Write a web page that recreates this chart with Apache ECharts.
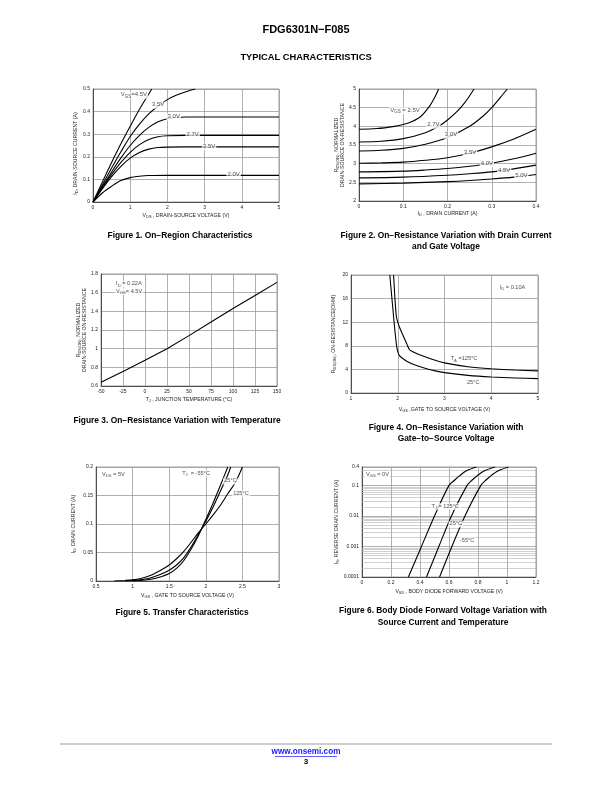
<!DOCTYPE html>
<html><head><meta charset="utf-8">
<script src="https://cdn.jsdelivr.net/npm/echarts@6/dist/echarts.min.js"></script>
<style>html,body{margin:0;padding:0;background:#fff}#c{width:612px;height:792px}</style>
</head><body><div id="c"></div>
<script>
// ---------- Figure 1: On-Region Characteristics (VDS [V], ID [A]) ----------
const fig1Vgs20 = [[0,0],[0.25,0.04],[0.5,0.07],[0.75,0.095],[1,0.108],[1.25,0.114],[1.5,0.117],[2,0.118],[3,0.118],[5,0.118]];
const fig1Vgs25 = [[0,0],[0.25,0.058],[0.5,0.112],[0.75,0.158],[1,0.194],[1.25,0.219],[1.5,0.234],[1.75,0.241],[2,0.243],[2.5,0.244],[3.5,0.244],[5,0.244]];
const fig1Vgs27 = [[0,0],[0.25,0.063],[0.5,0.122],[0.75,0.175],[1,0.22],[1.25,0.254],[1.5,0.277],[1.75,0.289],[2,0.293],[2.5,0.295],[3.5,0.295],[5,0.295]];
const fig1Vgs30 = [[0,0],[0.25,0.068],[0.5,0.133],[0.75,0.195],[1,0.25],[1.25,0.295],[1.5,0.33],[1.75,0.355],[2,0.368],[2.25,0.374],[2.5,0.376],[3.5,0.376],[5,0.376]];
const fig1Vgs35 = [[0,0],[0.25,0.076],[0.5,0.15],[0.75,0.222],[1,0.29],[1.25,0.345],[1.5,0.39],[1.75,0.425],[2,0.453],[2.25,0.473],[2.5,0.488],[2.75,0.5]];
const fig1Vgs45 = [[0,0],[0.25,0.088],[0.5,0.175],[0.75,0.258],[1,0.335],[1.25,0.41],[1.5,0.478],[1.58,0.5]];
const fig1Notes = [[1.1,0.472,'{a|V}{b|GS}{a|=4.5V}','c'],[1.75,0.428,'{a|3.5V}','c'],[2.17,0.376,'{a|3.0V}','c'],[2.68,0.295,'{a|2.7V}','c'],[3.12,0.244,'{a|2.5V}','c'],[3.78,0.118,'{a|2.0V}','c']];

// ---------- Figure 2: normalized RDS(on) vs ID ----------
const fig2Vgs25 = [[0,3.92],[0.04,3.94],[0.08,4.0],[0.1,4.05],[0.12,4.13],[0.14,4.27],[0.16,4.55],[0.17,4.75],[0.18,5.0]];
const fig2Vgs27 = [[0,3.58],[0.05,3.6],[0.1,3.67],[0.15,3.83],[0.18,4.0],[0.2,4.17],[0.22,4.38],[0.24,4.65],[0.26,5.0]];
const fig2Vgs30 = [[0,3.34],[0.05,3.36],[0.1,3.41],[0.15,3.52],[0.2,3.7],[0.25,4.0],[0.28,4.27],[0.3,4.5],[0.32,4.78],[0.335,5.0]];
const fig2Vgs35 = [[0,3.01],[0.05,3.02],[0.1,3.04],[0.15,3.09],[0.2,3.16],[0.25,3.28],[0.3,3.45],[0.35,3.66],[0.4,3.92]];
const fig2Vgs40 = [[0,2.78],[0.1,2.8],[0.15,2.83],[0.2,2.87],[0.25,2.93],[0.3,3.01],[0.35,3.13],[0.4,3.28]];
const fig2Vgs45 = [[0,2.62],[0.1,2.64],[0.2,2.69],[0.25,2.73],[0.3,2.78],[0.35,2.86],[0.4,2.96]];
const fig2Vgs50 = [[0,2.46],[0.1,2.48],[0.2,2.52],[0.25,2.55],[0.3,2.59],[0.35,2.64],[0.4,2.71]];
const fig2Notes = [[0.104,4.42,'{a|V}{b|GS}{a| = 2.5V}','c'],[0.168,4.03,'{a|2.7V}','c'],[0.208,3.76,'{a|3.0V}','c'],[0.251,3.29,'{a|3.5V}','c'],[0.289,3.0,'{a|4.0V}','c'],[0.328,2.82,'{a|4.5V}','c'],[0.367,2.67,'{a|5.0V}','c']];

// ---------- Figure 3: normalized RDS(on) vs TJ ----------
const fig3Temp = [-50,-25,0,25,50,75,100,125,150];
const fig3Rds = [0.64,0.755,0.875,1.0,1.14,1.285,1.43,1.57,1.71];
const fig3Notes = [[-34,1.692,'{a|I}{b|D}{a| = 0.22A}','l'],[-34,1.613,'{a|V}{b|GS}{a|= 4.5V}','l']];

// ---------- Figure 4: RDS(on) vs VGS ----------
const fig4T25 = [[1.83,20],[1.87,16.5],[1.91,13],[1.94,10.5],[1.97,8.3],[2.0,7.0],[2.04,6.3],[2.1,5.9],[2.2,5.35],[2.4,4.65],[2.6,4.15],[2.8,3.75],[3.0,3.45],[3.5,2.98],[4.0,2.7],[4.5,2.55],[5.0,2.44]];
const fig4T125 = [[1.91,20],[1.94,16],[1.97,13.0],[2.0,12.0],[2.05,10.9],[2.1,10.0],[2.15,9.1],[2.2,8.2],[2.25,7.35],[2.4,6.7],[2.6,6.1],[2.8,5.55],[3.0,5.1],[3.5,4.45],[4.0,4.1],[4.5,3.9],[5.0,3.75]];
const fig4Notes = [[4.16,17.85,'{a|I}{b|D}{a| = 0.10A}','l'],[3.11,5.72,'{a|T}{b|A}{a| =125°C}','l'],[3.46,1.76,'{a|25°C}','l']];

// ---------- Figure 5: Transfer characteristics ----------
const fig5Tm55 = [[1.0,0],[1.1,0.001],[1.25,0.003],[1.4,0.008],[1.5,0.013],[1.6,0.022],[1.7,0.036],[1.8,0.056],[1.9,0.08],[2.0,0.108],[2.1,0.137],[2.2,0.168],[2.3,0.2]];
const fig5T25 = [[0.9,0],[1.0,0.001],[1.2,0.004],[1.35,0.01],[1.5,0.019],[1.6,0.028],[1.7,0.041],[1.8,0.06],[1.9,0.082],[2.0,0.105],[2.1,0.13],[2.2,0.158],[2.3,0.186],[2.34,0.2]];
const fig5T125 = [[0.75,0],[0.9,0.001],[1.0,0.002],[1.1,0.004],[1.25,0.01],[1.4,0.02],[1.5,0.028],[1.6,0.039],[1.7,0.052],[1.8,0.068],[1.9,0.085],[2.0,0.1],[2.1,0.116],[2.2,0.133],[2.3,0.153],[2.4,0.172],[2.45,0.185],[2.5,0.2]];
const fig5Notes = [[0.568,0.187,'{a|V}{b|DS}{a| = 5V}','l'],[1.663,0.189,'{a|T}{b|J}{a|  = -55°C}','l'],[2.238,0.175,'{a|25°C}','l'],[2.36,0.153,'{a|125°C}','l']];

// ---------- Figure 6: Body diode forward voltage (IS in A, log scale) ----------
const fig6T125 = [[0.32,0.0001],[0.41,0.001],[0.5,0.01],[0.6,0.1],[0.64,0.15],[0.67,0.2],[0.72,0.3],[0.79,0.4]];
const fig6T25 = [[0.445,0.0001],[0.53,0.001],[0.617,0.01],[0.725,0.1],[0.76,0.15],[0.79,0.2],[0.845,0.3],[0.918,0.4]];
const fig6Tm55 = [[0.535,0.0001],[0.62,0.001],[0.71,0.01],[0.82,0.1],[0.855,0.15],[0.885,0.2],[0.94,0.3],[1.01,0.4]];
const fig6Notes = [[0.02,0.224,'{a|V}{b|GS}{a| = 0V}','l'],[0.574,0.0204,'{a|T}{b|J}{a| = 125°C}','c'],[0.647,0.0054,'{a|25°C}','c'],[0.725,0.00155,'{a|-55°C}','c']];
const fig6AxisMin = 0.0001, fig6AxisMax = 0.4;

// ---------- rendering ----------
const FONT = '"Liberation Sans", Arial, Helvetica, sans-serif';
const TXT = '#222';
const lg = v => Math.log10(v);
function rich(size) {
  return {
    n: {fontSize: size, fontFamily: FONT, color: TXT, lineHeight: size + 1, verticalAlign: 'top'},
    s: {fontSize: size * 0.75, fontFamily: FONT, color: TXT, lineHeight: size * 0.75, padding: [size * 0.5, 0, 0, 0], verticalAlign: 'bottom'},
    a: {fontSize: size, fontFamily: FONT, color: TXT, lineHeight: size + 1, verticalAlign: 'top'},
    b: {fontSize: size * 0.75, fontFamily: FONT, color: TXT, lineHeight: size * 0.75, padding: [size * 0.5, 0, 0, 0], verticalAlign: 'bottom'}
  };
}
const grids = [
  {left: 93, top: 89, width: 186, height: 113},
  {left: 359, top: 89, width: 177, height: 112},
  {left: 101, top: 274, width: 176, height: 112},
  {left: 351, top: 275, width: 187, height: 118},
  {left: 96, top: 467, width: 183, height: 114},
  {left: 362, top: 467, width: 174, height: 110}
].map(g => Object.assign({show: true, borderColor: '#888', borderWidth: 0.8, containLabel: false}, g));

const axisLine = {show: true, onZero: false, lineStyle: {color: '#444', width: 0.9}};
const split = {show: true, lineStyle: {color: '#9c9c9c', width: 0.8}};
const axLabel = {fontSize: 5, fontFamily: FONT, color: TXT, margin: 3};

function xAx(gi, min, max, interval, name, gap, extra) {
  return Object.assign({type: 'value', gridIndex: gi, min, max, interval, name, nameLocation: 'middle', nameGap: gap,
    nameTextStyle: {rich: rich(5.2)}, axisLine, axisTick: {show: false}, axisLabel: axLabel, splitLine: split}, extra || {});
}
function yAx(gi, min, max, interval, name, gap, extra, pad) {
  return Object.assign({type: 'value', gridIndex: gi, min, max, interval, name, nameLocation: 'middle', nameGap: gap, nameRotate: 90,
    nameTextStyle: {rich: rich(5.2), align: 'center', padding: pad || 0}, axisLine, axisTick: {show: false}, axisLabel: axLabel, splitLine: split}, extra || {});
}

const xAxes = [
  xAx(0, 0, 5, 1, '{n|V}{s|DS}{n| , DRAIN-SOURCE VOLTAGE (V)}', 11),
  xAx(1, 0, 0.4, 0.1, '{n|I}{s|D}{n| , DRAIN CURRENT (A)}', 10),
  xAx(2, -50, 150, 25, '{n|T}{s|J}{n| , JUNCTION TEMPERATURE (°C)}', 11),
  xAx(3, 1, 5, 1, '{n|V}{s|GS}{n| ,GATE TO SOURCE VOLTAGE (V)}', 14),
  xAx(4, 0.5, 3, 0.5, '{n|V}{s|GS}{n| , GATE TO SOURCE VOLTAGE (V)}', 12),
  xAx(5, 0, 1.2, 0.2, '{n|V}{s|SD}{n| , BODY DIODE FORWARD VOLTAGE (V)}', 12)
];
const yAxes = [
  yAx(0, 0, 0.5, 0.1, '{n|I}{s|D}{n|, DRAIN-SOURCE CURRENT (A)}', 14, null, [0, 16, 0, 0]),
  yAx(1, 2, 5, 0.5, '{n|R}{s|DS(ON)}{n|, NORMALIZED}\n{n|DRAIN-SOURCE ON-RESISTANCE}', 13),
  yAx(2, 0.6, 1.8, 0.2, '{n|R}{s|DS(ON)}{n|, NORMALIZED}\n{n|DRAIN-SOURCE ON-RESISTANCE}', 12),
  yAx(3, 0, 20, 4, '{n|R}{s|DS(ON)}{n|, ON-RESISTANCE(OHM)}', 14),
  yAx(4, 0, 0.2, 0.05, '{n|I}{s|D}{n|, DRAIN CURRENT (A)}', 19),
  yAx(5, lg(fig6AxisMin), lg(fig6AxisMax), 1, '{n|I}{s|S}{n|, REVERSE DRAIN CURRENT (A)}', 22, {
    axisLabel: Object.assign({}, axLabel, {showMaxLabel: true,
      formatter: v => Math.abs(v - lg(fig6AxisMax)) < 1e-6 ? String(fig6AxisMax) : String(+Math.pow(10, v).toPrecision(3))})})
];

function curve(gi, data, smooth) {
  return {type: 'line', xAxisIndex: gi, yAxisIndex: gi, data, showSymbol: false, symbol: 'none', smooth: smooth,
    lineStyle: {color: '#000', width: 1.1}, z: 3, silent: true, animation: false};
}
function notes(gi, arr, size, ymap) {
  const f = ymap || (v => v);
  return {type: 'scatter', xAxisIndex: gi, yAxisIndex: gi, symbolSize: 0, z: 10, silent: true, animation: false,
    data: arr.map(d => ({value: [d[0], f(d[1])], name: d[2],
      label: d[3] === 'l' ? {position: 'right', distance: 0} : {position: 'inside'}})),
    label: {show: true, formatter: p => p.name, backgroundColor: '#fff', padding: [0, 1, 0, 1], rich: rich(size)}};
}
const logPts = arr => arr.map(p => [p[0], lg(p[1])]);

// minor log gridlines (2..9 x decade) for figure 6
const fig6Minor = [];
for (let d = -4; d <= -1; d++) for (let k = 2; k <= 9; k++) { const v = k * Math.pow(10, d); if (v < fig6AxisMax * 0.999) fig6Minor.push(lg(v)); }

const series = [
  curve(0, fig1Vgs20, 0.3), curve(0, fig1Vgs25, 0.3), curve(0, fig1Vgs27, 0.3),
  curve(0, fig1Vgs30, 0.3), curve(0, fig1Vgs35, 0.3), curve(0, fig1Vgs45, 0.3),
  curve(1, fig2Vgs25, 0.3), curve(1, fig2Vgs27, 0.3), curve(1, fig2Vgs30, 0.3), curve(1, fig2Vgs35, 0.3),
  curve(1, fig2Vgs40, 0.3), curve(1, fig2Vgs45, 0.3), curve(1, fig2Vgs50, 0.3),
  curve(2, fig3Temp.map((t, i) => [t, fig3Rds[i]]), false),
  curve(3, fig4T25, 0.15), curve(3, fig4T125, 0.15),
  curve(4, fig5Tm55, 0.3), curve(4, fig5T25, 0.3), curve(4, fig5T125, 0.3),
  Object.assign(curve(5, logPts(fig6T125), 0.3), {markLine: {silent: true, symbol: ['none', 'none'], z: 1, animation: false,
    label: {show: false}, lineStyle: {color: '#b0b0b0', width: 0.6, type: 'solid'}, emphasis: {disabled: true},
    data: fig6Minor.map(v => ({yAxis: v}))}}),
  curve(5, logPts(fig6T25), 0.3), curve(5, logPts(fig6Tm55), 0.3),
  notes(0, fig1Notes, 6), notes(1, fig2Notes, 6), notes(2, fig3Notes, 5.6),
  notes(3, fig4Notes, 5.6), notes(4, fig5Notes, 5.6), notes(5, fig6Notes, 5.6, lg)
];

function txt(x, y, text, font, fill) {
  return {type: 'text', x, y, silent: true, style: {text, font, fill: fill || '#000', textAlign: 'center', textVerticalAlign: 'middle'}};
}
const CAP = 'bold 8.4px ' + FONT;
const graphic = [
  txt(306, 30, 'FDG6301N\u2212F085', 'bold 11px ' + FONT),
  txt(306, 57, 'TYPICAL CHARACTERISTICS', 'bold 9.3px ' + FONT),
  txt(180, 236, 'Figure 1. On\u2212Region Characteristics', CAP),
  txt(446, 236, 'Figure 2. On\u2212Resistance Variation with Drain Current', CAP),
  txt(446, 247, 'and Gate Voltage', CAP),
  txt(177, 421, 'Figure 3. On\u2212Resistance Variation with Temperature', CAP),
  txt(446, 428, 'Figure 4. On\u2212Resistance Variation with', CAP),
  txt(446, 439, 'Gate\u2212to\u2212Source Voltage', CAP),
  txt(182, 613, 'Figure 5. Transfer Characteristics', CAP),
  txt(443, 611, 'Figure 6. Body Diode Forward Voltage Variation with', CAP),
  txt(443, 623, 'Source Current and Temperature', CAP),
  {type: 'line', silent: true, shape: {x1: 60, y1: 744, x2: 552, y2: 744}, style: {stroke: '#bdbdbd', lineWidth: 1.5}},
  txt(306, 752, 'www.onsemi.com', 'bold 8.2px ' + FONT, '#1a1aff'),
  {type: 'line', silent: true, shape: {x1: 275, y1: 756.5, x2: 337, y2: 756.5}, style: {stroke: '#1a1aff', lineWidth: 0.7}},
  txt(306, 762, '3', 'bold 8px ' + FONT)
];

const chart = echarts.init(document.getElementById('c'), null, {renderer: 'canvas', width: 612, height: 792});
chart.setOption({backgroundColor: '#fff', animation: false, grid: grids, xAxis: xAxes, yAxis: yAxes, series, graphic});
</script></body></html>
